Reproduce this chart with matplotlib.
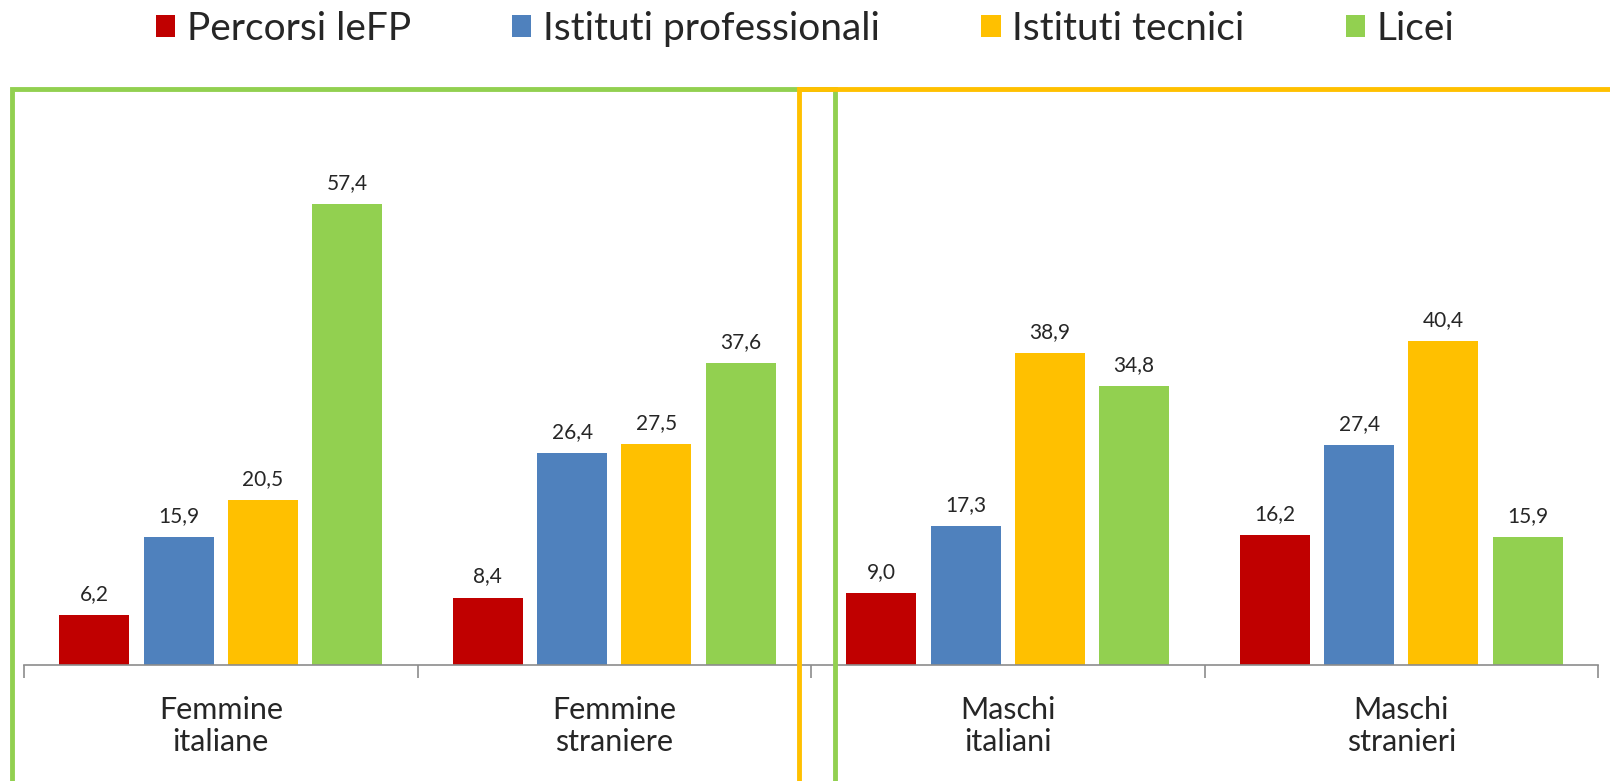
import matplotlib.pyplot as plt
import numpy as np
from matplotlib.patches import Patch, Rectangle

# values
categories = ['Femmine\nitaliane', 'Femmine\nstraniere', 'Maschi\nitaliani', 'Maschi\nstranieri']
series_names = ['Percorsi leFP', 'Istituti professionali', 'Istituti tecnici', 'Licei']
percorsi = [6.2, 8.4, 9.0, 16.2]
professionali = [15.9, 26.4, 17.3, 27.4]
tecnici = [20.5, 27.5, 38.9, 40.4]
licei = [57.4, 37.6, 34.8, 15.9]
colors = ['#C00000', '#4F81BD', '#FFC000', '#92D050']

plt.rcParams['font.family'] = ['Lato', 'DejaVu Sans']

W, H = 1610, 781
fig = plt.figure(figsize=(W / 100, H / 100), dpi=100)

# axes placed in pixel coords: x 24..1598, y 88..665
ax = fig.add_axes([24 / W, 1 - 665 / H, (1598 - 24) / W, (665 - 88) / H])

x = np.arange(len(categories))
width = 0.178
step = 0.214
all_series = [percorsi, professionali, tecnici, licei]
for i, vals in enumerate(all_series):
    pos = x + (i - 1.5) * step
    bars = ax.bar(pos, vals, width=width, color=colors[i], label=series_names[i])
    ax.bar_label(bars, labels=[f'{v:.1f}'.replace('.', ',') for v in vals],
                 padding=8, fontsize=15, color='#262626')

ax.set_xlim(-0.5, 3.5)
ax.set_ylim(0, 71.9)
ax.set_yticks([])
for s in ['top', 'right', 'left']:
    ax.spines[s].set_visible(False)
ax.spines['bottom'].set_color('#8c8c8c')
ax.spines['bottom'].set_linewidth(1.2)

ax.set_xticks(x)
ax.set_xticklabels(categories, fontsize=22, color='#262626', linespacing=1.2)
ax.tick_params(axis='x', which='major', length=0, pad=22)
ax.set_xticks([-0.5, 0.5, 1.5, 2.5, 3.5], minor=True)
ax.tick_params(axis='x', which='minor', length=9, width=1.2, color='#8c8c8c')

# legend across the top
handles = [Patch(facecolor=c, edgecolor='none') for c in colors]
fig.legend(handles, series_names, loc='center', bbox_to_anchor=(0.5, 1 - 29 / H),
           ncol=4, frameon=False, fontsize=28, handlelength=0.5, handleheight=0.5,
           handletextpad=0.3, columnspacing=2.6, labelcolor='#262626')

# the two coloured frames
green_box = Rectangle((12 / W, -0.1), (835 - 12) / W, 1.1 - 89 / H, transform=fig.transFigure,
                      fill=False, edgecolor='#92D050', linewidth=3.5)
orange_box = Rectangle((799 / W, -0.1), 0.6, 1.1 - 89 / H, transform=fig.transFigure,
                       fill=False, edgecolor='#FFC000', linewidth=3.5)
fig.patches.append(green_box)
fig.patches.append(orange_box)

fig.savefig('out.png', dpi=100)
